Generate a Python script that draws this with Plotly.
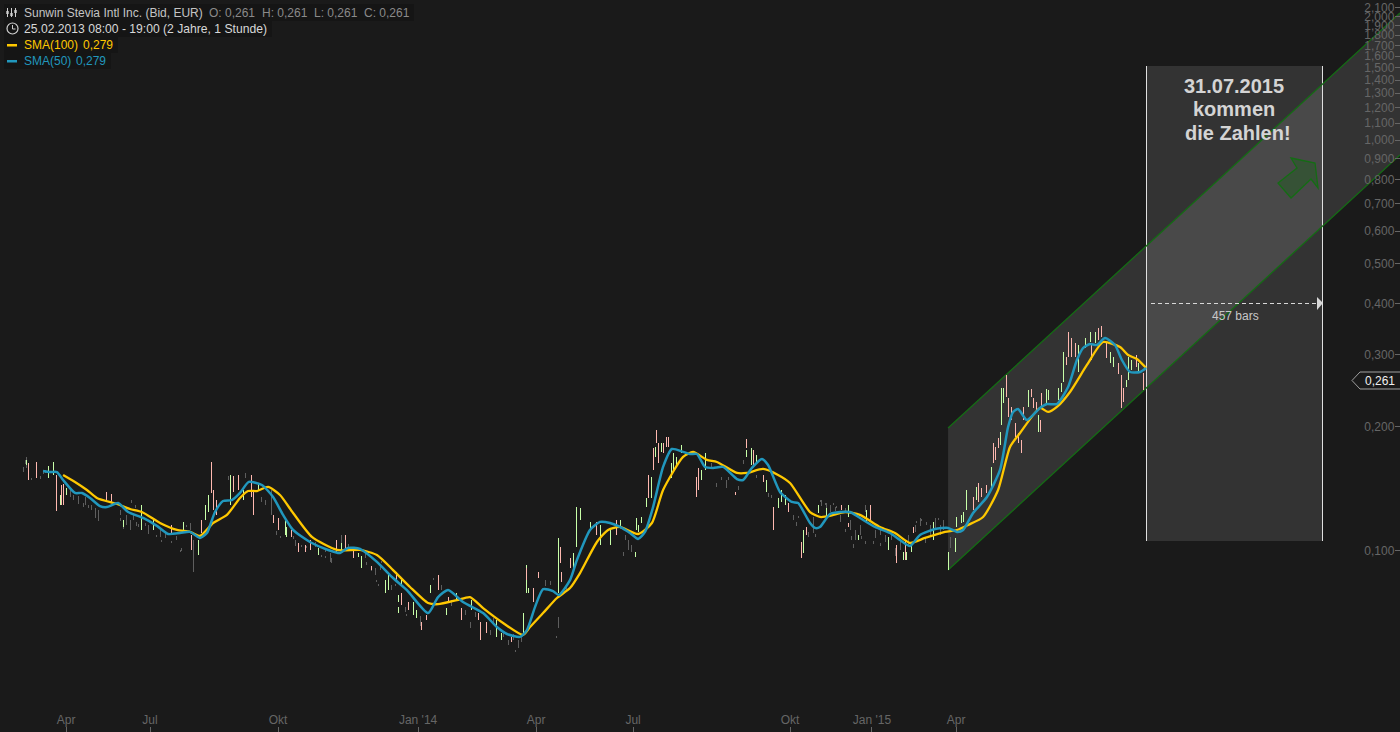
import plotly.graph_objects as go

# bar number (2.6 bars per screen pixel), prices in EUR
sma50_bar = [112,130,148,164,195,213,234,260,278,307,333,372,408,437,468,494,520,538,559,580,603,624,647,681,710,736,762,806,853,884,905,936,980,1022,1058,1113,1139,1165,1204,1256,1292,1318,1352,1370,1391,1412,1438,1453,1482,1500,1534,1560,1586,1612,1638,1659,1677,1698,1724,1747,1776,1794,1812,1833,1854,1880,1916,1932,1955,1981,1997,2028,2059,2075,2106,2119,2132,2158,2184,2210,2236,2275,2314,2340,2366,2392,2431,2465,2488,2504,2530,2566,2600,2621,2634,2647,2670,2704,2722,2748,2777,2800,2816,2834,2852,2873,2899,2917,2938,2964,2980]
sma50_val = [.1562,.1553,.1553,.1485,.1381,.1381,.1343,.1283,.1276,.1305,.1241,.1200,.1148,.1097,.1103,.1110,.1073,.1103,.1241,.1320,.1327,.1381,.1469,.1444,.1350,.1221,.1122,.1049,.1003,.0986,.1015,.1009,.0938,.0857,.0801,.0704,.0770,.0801,.0749,.0704,.0651,.0626,.0616,.0640,.0728,.0805,.0796,.0779,.0847,.0948,.1122,.1174,.1167,.1141,.1103,.1067,.1110,.1276,.1598,.1767,.1739,.1718,.1718,.1598,.1589,.1598,.1493,.1485,.1589,.1671,.1616,.1389,.1313,.1305,.1167,.1135,.1141,.1227,.1241,.1241,.1200,.1141,.1103,.1061,.1026,.1091,.1128,.1135,.1110,.1122,.1234,.1350,.1571,.1999,.2175,.2212,.2079,.2224,.2274,.2274,.2502,.2911,.3114,.3184,.3166,.3293,.3166,.2911,.2722,.2722,.2783]

sma100_bar = [164,195,226,252,304,338,369,416,460,494,520,554,590,624,645,668,697,728,762,811,876,936,980,1022,1066,1113,1139,1188,1222,1256,1308,1360,1378,1412,1448,1482,1508,1552,1581,1612,1659,1695,1724,1776,1802,1838,1864,1916,1942,1984,2023,2054,2106,2132,2158,2197,2236,2288,2327,2366,2405,2457,2488,2517,2556,2595,2626,2652,2704,2725,2748,2782,2826,2868,2912,2933,2956,2980]
sma100_val = [.1528,.1469,.1404,.1343,.1298,.1262,.1241,.1167,.1122,.1110,.1085,.1167,.1221,.1343,.1396,.1396,.1428,.1365,.1234,.1079,.1003,.1003,.0975,.0896,.0815,.0745,.0740,.0757,.0770,.0724,.0666,.0623,.0651,.0704,.0766,.0810,.0881,.1049,.1122,.1141,.1097,.1167,.1404,.1690,.1739,.1662,.1643,.1545,.1545,.1580,.1528,.1460,.1241,.1207,.1214,.1241,.1221,.1141,.1103,.1043,.1073,.1110,.1122,.1154,.1207,.1404,.1788,.1933,.2224,.2175,.2237,.2433,.2831,.3220,.3131,.2994,.2928,.2783]

up_bar = [70,127,140,156,161,174,322,369,398,476,515,533,543,598,634,673,741,827,887,931,941,1001,1009,1035,1037,1043,1074,1084,1118,1160,1188,1227,1292,1303,1362,1368,1375,1453,1490,1498,1500,1508,1534,1560,1586,1612,1651,1654,1661,1667,1680,1693,1703,1721,1745,1750,1758,1771,1823,1833,1940,1953,1966,1994,2025,2033,2041,2088,2465,2483,2488,2499,2506,2514,2538,2577,2600,2603,2608,2673,2701,2720,2727,2751,2759,2766,2805,2821,2834,2847,2886,2896,2928,2933,2943,2961,2369,2348,2358,2309,2426,2254,2205,2150,2127,2233,744,941,1009]
up_high = [.1662,.1607,.1643,.1365,.1404,.1420,.1187,.1291,.1187,.1174,.1061,.1291,.1365,.1528,.1404,.1460,.1187,.1015,.1043,.0986,.0970,.0847,.0871,.0779,.0728,.0857,.0749,.0716,.0824,.0724,.0788,.0757,.0677,.0630,.0704,.0922,.0810,.1073,.0986,.1122,.1276,.1269,.1174,.1154,.1122,.1187,.0992,.1200,.1154,.1207,.1343,.1511,.1788,.1828,.1634,.1729,.1690,.1808,.1571,.1729,.1757,.1778,.1709,.1485,.1343,.1404,.1365,.1122,.0992,.1073,.1207,.1221,.1241,.1404,.1428,.1598,.1944,.2488,.2488,.2460,.2139,.2474,.2460,.2488,.2559,.3045,.3166,.3293,.3406,.3406,.3045,.2961,.2602,.2961,.2911,.2863,.1032,.0992,.0992,.1079,.1174,.1255,.1291,.1269,.1291,.1091,.1141,.0932,.0861]
up_low = [.1616,.1502,.1528,.1291,.1291,.1365,.1141,.1122,.1122,.1122,.0975,.1187,.1241,.1291,.1327,.1404,.1091,.0975,.1003,.0965,.0932,.0788,.0801,.0749,.0704,.0824,.0696,.0685,.0788,.0696,.0757,.0716,.0616,.0605,.0630,.0788,.0788,.0788,.0906,.1020,.1032,.1187,.1122,.1032,.1032,.1141,.0965,.1122,.1110,.1167,.1276,.1343,.1690,.1739,.1502,.1571,.1616,.1729,.1485,.1571,.1690,.1616,.1634,.1389,.1269,.1313,.1291,.0986,.0896,.0992,.1141,.1167,.1174,.1255,.1327,.1428,.1808,.2022,.2287,.2237,.1944,.2287,.2326,.2326,.2433,.2573,.2722,.3114,.3220,.3202,.2863,.2799,.2502,.2602,.2752,.2722,.0992,.0948,.0948,.1003,.1061,.1174,.1207,.1207,.1234,.1061,.1079,.0906,.0810]

down_bar = [75,94,96,148,159,164,278,291,447,499,523,551,554,564,608,621,653,658,712,723,757,775,793,806,876,897,920,967,1032,1045,1063,1095,1110,1139,1165,1201,1243,1248,1266,1329,1370,1386,1399,1456,1461,1482,1550,1604,1685,1687,1698,1708,1713,1724,1734,1739,1812,1817,1911,1942,1960,1984,2012,2051,2085,2096,2262,2332,2353,2530,2545,2553,2566,2582,2587,2595,2616,2623,2629,2639,2647,2657,2662,2681,2686,2694,2704,2709,2772,2779,2787,2795,2839,2857,2865,2876,2907,2917,2922,2956,2972,2974,2374,2205,2187]
down_high = [.1634,.1634,.1643,.1528,.1444,.1452,.1389,.1373,.1154,.1091,.1187,.1643,.1404,.1327,.1519,.1528,.1528,.1404,.1221,.1200,.1122,.1043,.1032,.1061,.1061,.1091,.0997,.0917,.0886,.0788,.0749,.0670,.0696,.0871,.0770,.0724,.0704,.0670,.0670,.0616,.0906,.0810,.0886,.1020,.0886,.0959,.1174,.1187,.1460,.1528,.1778,.1966,.1828,.1828,.1890,.1890,.1511,.1589,.1389,.1869,.1757,.1528,.1276,.1305,.1049,.1141,.1291,.1032,.1061,.1350,.1460,.1420,.1444,.1828,.1788,.1880,.2676,.2352,.2237,.2045,.1933,.1859,.2237,.2474,.2352,.2300,.2079,.2419,.2961,.3406,.3293,.3202,.3166,.3483,.3522,.3202,.2863,.2676,.2488,.2994,.2706,.2530,.1141,.1167,.1291]
down_low = [.1485,.1571,.1502,.1248,.1291,.1291,.1327,.1305,.1091,.1003,.1103,.1381,.1255,.1221,.1389,.1404,.1350,.1221,.1167,.1122,.1079,.0992,.0992,.1003,.0992,.1015,.0959,.0896,.0847,.0736,.0716,.0640,.0677,.0801,.0745,.0677,.0677,.0605,.0630,.0598,.0847,.0749,.0857,.0932,.0838,.0906,.1091,.1091,.1343,.1420,.1571,.1828,.1634,.1729,.1788,.1788,.1350,.1404,.1365,.1778,.1598,.1469,.1122,.1241,.0959,.1091,.1187,.0932,.0948,.1255,.1313,.1350,.1381,.1634,.1662,.1778,.2365,.2115,.2079,.1890,.1828,.1729,.2079,.2365,.2224,.2199,.1944,.2237,.2831,.2961,.2961,.2961,.2911,.3256,.3311,.2945,.2691,.2224,.2300,.2799,.2488,.2460,.1103,.1141,.1255]

flat_bar = [62,68,114,182,190,203,221,239,247,255,312,330,338,348,356,385,416,429,458,471,494,504,593,637,681,689,707,767,819,845,858,863,889,949,975,988,1019,1053,1092,1149,1175,1209,1222,1235,1274,1284,1310,1321,1334,1347,1339,1357,1417,1430,1451,1446,1472,1625,1633,1643,1620,1851,1864,1877,1890,1895,1921,1934,1968,1999,2007,2062,2070,2075,2101,2114,2137,2148,2158,2171,2184,2197,2210,2223,2236,2249,2275,2288,2301,2309,2319,2327,2340,2361,2379,2392,2405,2418,2431,2444,2454,2470,
            65,70,83,104,117,164,190,203,216,229,255,247,312,320,343,351,359,377,385,408,421,447,468,486,720,728,762,785,798,837,845,858,897,905,954,967,980,983,993,1027,1058,1092,1110,1126,2132,2145,2166,2176,2197,2215,2218,2241,2249,2270,2288,2384,2397,2410,2439,2452,2101,2119]
flat_high = [.1598,.1690,.1571,.1404,.1365,.1358,.1350,.1291,.1269,.1255,.1255,.1221,.1187,.1221,.1174,.1154,.1122,.1110,.1085,.1015,.1167,.1061,.1519,.1545,.1350,.1327,.1404,.1061,.1049,.1015,.0986,.0959,.1091,.0992,.0906,.0917,.0824,.0728,.0685,.0824,.0757,.0716,.0670,.0708,.0640,.0685,.0633,.0605,.0626,.0605,.0572,.0623,.0847,.0842,.0688,.0619,.0824,.1091,.1061,.1032,.0992,.1634,.1460,.1511,.1485,.1511,.1436,.1662,.1528,.1381,.1365,.1221,.1174,.1214,.1110,.1207,.1327,.1305,.1291,.1276,.1221,.1269,.1187,.1122,.1154,.1291,.1122,.1141,.1091,.1061,.1103,.1015,.1061,.1091,.1154,.1200,.1079,.1154,.1200,.1154,.1187,.1079,
             .1662,.1616,.1502,.1519,.1571,.1327,.1350,.1327,.1305,.1291,.1200,.1221,.1200,.1148,.1327,.1291,.1161,.1167,.1116,.1091,.1061,.1055,.1003,.1154,.1116,.1085,.1085,.1032,.1026,.0975,.0970,.0975,.1085,.1037,.0938,.0901,.0847,.0828,.0943,.0828,.0700,.0692,.0692,.0857,.1327,.1305,.1305,.1283,.1128,.1085,.1037,.1085,.1055,.1055,.1043,.1180,.1194,.1174,.1200,.1148,.1097,.1097]
flat_low = [.1553,.1643,.1536,.1350,.1327,.1327,.1291,.1255,.1221,.1187,.1221,.1154,.1122,.1187,.1148,.1110,.1079,.1073,.1061,.0997,.1122,.0886,.1485,.1502,.1313,.1291,.1221,.1026,.1020,.0992,.0965,.0932,.1043,.0959,.0871,.0896,.0801,.0708,.0654,.0801,.0732,.0696,.0647,.0688,.0623,.0658,.0616,.0589,.0605,.0579,.0565,.0598,.0819,.0824,.0647,.0613,.0792,.1061,.1003,.0992,.0970,.1589,.1428,.1485,.1420,.1485,.1404,.1625,.1502,.1350,.1343,.1187,.1148,.1200,.1085,.1103,.1283,.1255,.1241,.1248,.1174,.1234,.1122,.1061,.1091,.1241,.1073,.1091,.1049,.1015,.1061,.0970,.1003,.1032,.1110,.1148,.1043,.1091,.1135,.1091,.1135,.1015,
            .1625,.1589,.1485,.1493,.1545,.1305,.1327,.1298,.1276,.1269,.1180,.1200,.1180,.1128,.1305,.1269,.1141,.1148,.1097,.1079,.1049,.1043,.0992,.1141,.1091,.1073,.1067,.1020,.1015,.0965,.0959,.0938,.1061,.1020,.0922,.0891,.0838,.0819,.0932,.0819,.0692,.0681,.0681,.0847,.1313,.1291,.1291,.1269,.1110,.1061,.1015,.1067,.1037,.1037,.1026,.1167,.1180,.1154,.1187,.1122,.1079,.1079]

channel_bar = [2465, 3640]
channel_upper = [.1988, 2.039]
channel_lower = [.0896, .9194]
span_start, span_bars = 2982, 457
span_high, span_low = 1.515, .1055
span_mid = .4
last_price = .261

x_tick_bar = [172,390,723,1087,1394,1646,2054,2267,2486]
x_tick_text = ["Apr","Jul","Okt","Jan '14","Apr","Jul","Okt","Jan '15","Apr"]
y_tick_val = [.1,.2,.3,.4,.5,.6,.7,.8,.9,1.0,1.1,1.2,1.3,1.4,1.5,1.6,1.7,1.8,1.9,2.0,2.1]
y_tick_text = ["0,100","0,200","0,300","0,400","0,500","0,600","0,700","0,800","0,900","1,000","1,100","1,200","1,300","1,400","1,500","1,600","1,700","1,800","1,900","2,000","2,100"]

BG = "#1a1a1a"
W, H = 1400, 732


def px(x):
    return x / W


def py(y):
    return 1 - y / H


def wicks(bars, hi, lo, color, width=1):
    xs, ys = [], []
    for b, h, l in zip(bars, hi, lo):
        xs += [b, b, None]
        ys += [l, h, None]
    return go.Scatter(x=xs, y=ys, mode="lines", line=dict(color=color, width=width), hoverinfo="skip")


def poly(pts, **kw):
    path = "M" + " L".join(f"{px(x):.5f},{py(y):.5f}" for x, y in pts) + " Z"
    return dict(type="path", xref="paper", yref="paper", path=path, **kw)


def label(x, y, text, color, size=12, anchor="left", bold=False):
    return dict(xref="paper", yref="paper", x=px(x), y=py(y), text=f"<b>{text}</b>" if bold else text,
                showarrow=False, xanchor=anchor, yanchor="middle",
                font=dict(family="Liberation Sans", size=size, color=color), borderpad=0)


fig = go.Figure()

# channel
fig.add_trace(go.Scatter(x=channel_bar + channel_bar[::-1], y=channel_upper + channel_lower[::-1],
                         fill="toself", fillcolor="rgba(255,255,255,0.11)", mode="none", hoverinfo="skip"))
# time span box
span_end = span_start + span_bars
fig.add_trace(go.Scatter(x=[span_start, span_end, span_end, span_start], y=[span_high, span_high, span_low, span_low],
                         fill="toself", fillcolor="rgba(255,255,255,0.11)", mode="none", hoverinfo="skip"))
for b in (span_start, span_end):
    fig.add_trace(go.Scatter(x=[b, b], y=[span_low, span_high], mode="lines",
                             line=dict(color="#e0e0e0", width=1), hoverinfo="skip"))
fig.add_trace(go.Scatter(x=channel_bar, y=channel_upper, mode="lines", line=dict(color="#146c14", width=1.3), hoverinfo="skip"))
fig.add_trace(go.Scatter(x=channel_bar, y=channel_lower, mode="lines", line=dict(color="#146c14", width=1.3), hoverinfo="skip"))
fig.add_trace(go.Scatter(x=[span_start + 11, span_end - 16], y=[span_mid, span_mid], mode="lines",
                         line=dict(color="#d8d8d8", width=1, dash="4px,3px"), hoverinfo="skip"))

fig.add_trace(wicks(flat_bar, flat_high, flat_low, "#5e5e5e"))
fig.add_trace(wicks(up_bar, up_high, up_low, "#c8ffa8"))
fig.add_trace(wicks(down_bar, down_high, down_low, "#ffb8b0"))

fig.add_trace(go.Scatter(x=sma100_bar, y=sma100_val, mode="lines", hoverinfo="skip",
                         line=dict(color="#ffc800", width=2.3, shape="spline", smoothing=0.6)))
fig.add_trace(go.Scatter(x=sma50_bar, y=sma50_val, mode="lines", hoverinfo="skip",
                         line=dict(color="#2197bd", width=2.5, shape="spline", smoothing=0.6)))

shapes = [
    # header backgrounds
    dict(type="rect", xref="paper", yref="paper", x0=px(4), x1=px(414), y0=py(21), y1=py(4), fillcolor="#151515", line_width=0, layer="below"),
    dict(type="rect", xref="paper", yref="paper", x0=px(4), x1=px(272), y0=py(37), y1=py(21), fillcolor="#151515", line_width=0, layer="below"),
    dict(type="rect", xref="paper", yref="paper", x0=px(4), x1=px(118), y0=py(53), y1=py(37), fillcolor="#151515", line_width=0, layer="below"),
    dict(type="rect", xref="paper", yref="paper", x0=px(4), x1=px(111), y0=py(69), y1=py(53), fillcolor="#151515", line_width=0, layer="below"),
    # legend dashes
    dict(type="rect", xref="paper", yref="paper", x0=px(7), x1=px(17), y0=py(46.5), y1=py(44), fillcolor="#ffc800", line_width=0),
    dict(type="rect", xref="paper", yref="paper", x0=px(7), x1=px(17), y0=py(62.5), y1=py(60), fillcolor="#2197bd", line_width=0),
    # clock icon
    dict(type="circle", xref="paper", yref="paper", x0=px(7), x1=px(18), y0=py(34), y1=py(23), line=dict(color="#d0d0d0", width=1.2)),
    dict(type="path", xref="paper", yref="paper", line=dict(color="#d0d0d0", width=1),
         path=f"M{px(12.5)},{py(25)} L{px(12.5)},{py(29)} L{px(15.5)},{py(29)}"),
    # arrow on the channel
    poly([(1291,158),(1315,163),(1318,188),(1311,179),(1291,198),(1278,183),(1297,168)],
         line=dict(color="#146c14", width=1.3), fillcolor="rgba(20,100,20,0.35)"),
    # end of the span measure
    poly([(1317,297),(1323,303),(1317,310)], line_width=0, fillcolor="#d8d8d8"),
    # last price tag
    poly([(1352,380.5),(1360,372),(1401,372),(1401,389),(1360,389)], line=dict(color="#a0a0a0", width=1), fillcolor=BG),
]
# candlestick icon
for x0, y_top, y_bot, b0, b1 in [(7.5,8,17,11,14),(11.5,8,17,13,16),(15.5,8,17,10,13)]:
    shapes.append(dict(type="line", xref="paper", yref="paper", x0=px(x0), x1=px(x0), y0=py(y_bot), y1=py(y_top), line=dict(color="#d0d0d0", width=1)))
    shapes.append(dict(type="rect", xref="paper", yref="paper", x0=px(x0-1.2), x1=px(x0+1.2), y0=py(b1), y1=py(b0), fillcolor="#d0d0d0", line_width=0))

annotations = [
    label(22.5, 12.5, "Sunwin Stevia Intl Inc. (Bid, EUR)", "#c4c4c4"),
    label(207.5, 12.5, "O: 0,261", "#8a8a8a"),
    label(260.5, 12.5, "H: 0,261", "#8a8a8a"),
    label(312.5, 12.5, "L: 0,261", "#8a8a8a"),
    label(362.5, 12.5, "C: 0,261", "#8a8a8a"),
    label(22.5, 29, "25.02.2013 08:00 - 19:00 (2 Jahre, 1 Stunde)", "#d8d8d8", 12.15),
    label(22.5, 45, "SMA(100)", "#ffc800"),
    label(82, 45, "0,279", "#ffc800"),
    label(22.5, 61, "SMA(50)", "#2197bd"),
    label(75, 61, "0,279", "#2197bd"),
    label(1234, 85.5, "31.07.2015", "#d4d4d4", 20, "center", True),
    label(1234, 109, "kommen", "#d4d4d4", 20, "center", True),
    label(1237.5, 133.5, "die Zahlen!", "#d4d4d4", 20, "center", True),
    label(1235.5, 316, "457 bars", "#c8c8c8", 12, "center"),
    label(1379.5, 381, "0,261", "#f0f0f0", 12, "center"),
]

fig.update_layout(
    width=W, height=H, margin=dict(l=0, r=0, t=0, b=0),
    paper_bgcolor=BG, plot_bgcolor=BG, showlegend=False, hovermode=False,
    shapes=shapes, annotations=annotations,
    font=dict(family="Liberation Sans"),
    xaxis=dict(range=[0, 3640], showgrid=False, zeroline=False, tickmode="array", tickvals=x_tick_bar,
               ticktext=x_tick_text, ticks="inside", ticklen=5, tickcolor="#666666", ticklabelposition="inside",
               tickfont=dict(color="#666666", size=12), showline=False),
    yaxis=dict(type="log", range=[-1.44215, 0.34105], side="right", showgrid=False, zeroline=False, tickmode="array",
               tickvals=y_tick_val, ticktext=y_tick_text, ticks="inside", ticklen=5, tickcolor="#666666",
               ticklabelposition="inside", tickfont=dict(color="#666666", size=12), showline=False),
)

post = """
document.body.style.margin='0';
document.body.style.background='#1a1a1a';
var t=document.querySelectorAll('.scatterlayer .trace');
[2,3,6,7,8,9].forEach(function(i){t[i].querySelectorAll('path.js-line').forEach(function(p){p.style.shapeRendering='crispEdges';});});
"""
fig.write_html("out.html", post_script=post, config=dict(displayModeBar=False))
